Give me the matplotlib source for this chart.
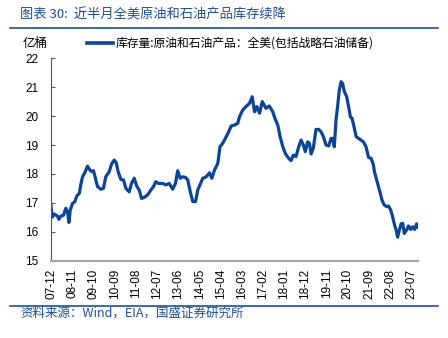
import matplotlib
matplotlib.use('Agg')
import matplotlib.pyplot as plt
import pandas as pd

# 全美原油和石油产品库存(含战略储备), 亿桶
dates = ['2007-11-22', '2007-12-10', '2008-01-13', '2008-03-04', '2008-03-25', '2008-04-25',
         '2008-06-07', '2008-07-13', '2008-08-10', '2008-09-01', '2008-09-22', '2008-10-28',
         '2008-12-04', '2009-01-04', '2009-02-13', '2009-03-07', '2009-04-04', '2009-05-10',
         '2009-06-22', '2009-07-22', '2009-08-25', '2009-09-25', '2009-10-22', '2009-11-28',
         '2010-01-19', '2010-03-01', '2010-04-07', '2010-06-01', '2010-07-07', '2010-08-19',
         '2010-09-19', '2010-10-19', '2010-12-01', '2011-01-13', '2011-02-19', '2011-04-13',
         '2011-05-19', '2011-07-01', '2011-08-10', '2011-09-19', '2011-10-25', '2011-12-07',
         '2012-01-28', '2012-03-19', '2012-05-01', '2012-06-07', '2012-07-19', '2012-09-22',
         '2012-11-13', '2013-01-04', '2013-03-01', '2013-04-13', '2013-05-19', '2013-06-28',
         '2013-08-07', '2013-09-19', '2013-10-25', '2013-12-04', '2014-01-13', '2014-02-25',
         '2014-04-01', '2014-05-07', '2014-06-19', '2014-08-01', '2014-09-07', '2014-10-04',
         '2014-11-10', '2014-12-22', '2015-02-13', '2015-03-19', '2015-05-01', '2015-06-13',
         '2015-08-04', '2015-09-13', '2015-11-04', '2015-12-25', '2016-01-22', '2016-03-13',
         '2016-05-04', '2016-06-28', '2016-08-10', '2016-09-16', '2016-10-22', '2016-12-04',
         '2017-01-16', '2017-03-16', '2017-05-07', '2017-07-01', '2017-08-13', '2017-09-19',
         '2017-10-25', '2017-12-07', '2018-01-19', '2018-03-10', '2018-04-16', '2018-05-22',
         '2018-07-04', '2018-08-16', '2018-09-22', '2018-10-28', '2018-11-28', '2019-01-04',
         '2019-02-01', '2019-02-28', '2019-04-04', '2019-05-16', '2019-06-28', '2019-08-04',
         '2019-09-10', '2019-10-22', '2019-12-04', '2020-01-10', '2020-02-04', '2020-03-01',
         '2020-03-28', '2020-04-22', '2020-05-19', '2020-06-16', '2020-07-10', '2020-08-07',
         '2020-09-13', '2020-10-13', '2020-11-10', '2020-12-07', '2021-01-01', '2021-02-10',
         '2021-03-19', '2021-04-28', '2021-06-04', '2021-07-16', '2021-08-25', '2021-10-04',
         '2021-11-10', '2021-11-25', '2022-01-01', '2022-02-13', '2022-03-25', '2022-05-01',
         '2022-06-07', '2022-07-07', '2022-08-10', '2022-09-10', '2022-10-10', '2022-11-04',
         '2022-11-28', '2022-12-25', '2023-01-22', '2023-02-16', '2023-03-13', '2023-04-19',
         '2023-05-19', '2023-06-22', '2023-07-22', '2023-08-22', '2023-09-25', '2023-10-16']

stocks = [16.90, 16.50, 16.61, 16.54, 16.43, 16.54,
          16.57, 16.81, 16.69, 16.32, 16.75, 16.98,
          17.04, 17.24, 17.33, 17.62, 17.90, 18.04,
          18.27, 18.16, 18.08, 18.11, 17.88, 17.56,
          17.47, 17.50, 17.90, 18.08, 18.34, 18.48,
          18.39, 18.08, 17.81, 17.79, 17.50, 17.38,
          17.67, 17.85, 17.58, 17.44, 17.15, 17.19,
          17.27, 17.44, 17.56, 17.73, 17.67, 17.67,
          17.62, 17.67, 17.47, 17.67, 18.11, 17.85,
          17.90, 17.88, 17.79, 17.38, 17.04, 17.04,
          17.44, 17.62, 17.85, 17.88, 17.96, 18.04,
          17.85, 18.13, 18.37, 18.94, 19.06, 19.23,
          19.46, 19.66, 19.69, 19.75, 19.98, 20.21,
          20.33, 20.44, 20.67, 20.15, 20.33, 20.10,
          20.50, 20.27, 20.35, 20.15, 19.87, 19.69,
          19.29, 18.94, 18.69, 18.54, 18.46, 18.65,
          18.60, 18.94, 19.17, 19.00, 18.77, 19.11,
          19.06, 18.69, 18.89, 19.54, 19.54, 19.46,
          19.29, 19.00, 18.97, 19.23, 19.23, 18.94,
          19.87, 20.33, 20.90, 21.19, 21.13, 20.85,
          20.67, 20.33, 19.98, 19.92, 19.69, 19.29,
          19.23, 19.17, 19.11, 18.94, 18.57, 18.54,
          18.31, 18.08, 17.79, 17.44, 17.10, 16.92,
          16.87, 16.89, 16.75, 16.52, 16.23, 16.06,
          15.81, 16.06, 16.27, 16.29, 15.94, 16.06,
          16.20, 16.08, 16.17, 16.08, 16.27, 16.15]

tick_labels = ['07-12', '08-11', '09-10', '10-09', '11-08', '12-07', '13-06', '14-05', '15-04',
               '16-03', '17-02', '18-01', '18-12', '19-11', '20-10', '21-09', '22-08', '23-07']

BLUE = '#0c4496'
TXT_BLUE = '#1f4e9c'
CJK = ['Noto Sans CJK SC', 'DejaVu Sans']
LAT = ['Liberation Sans', 'Noto Sans CJK SC']

x = pd.to_datetime(dates)

fig = plt.figure(figsize=(4.48, 3.38), dpi=100)
ax = fig.add_axes([0.1138, 0.229, 0.8192, 0.5985])

ax.plot(x, stocks, color=BLUE, linewidth=2.3, solid_joinstyle='round')

ax.set_ylim(15, 22)
ax.set_yticks(range(15, 23))
ax.set_xlim(x[0], x[-1])
ticks = [pd.Timestamp('20' + t[:2] + '-' + t[3:] + '-01') for t in tick_labels]
ax.set_xticks(ticks)
ax.set_xticklabels(tick_labels, rotation=90, family=LAT, fontsize=8.5)
for lab in ax.get_yticklabels():
    lab.set_family(LAT)
    lab.set_fontsize(8.5)

for s in ['top', 'right']:
    ax.spines[s].set_visible(False)
ax.spines['left'].set_color('#555555')
ax.spines['bottom'].set_color('#a6a6a6')
ax.spines['bottom'].set_linewidth(1.5)
ax.tick_params(axis='y', direction='in', length=3, color='#555555', pad=9)
ax.tick_params(axis='x', length=0, pad=6)

# title, legend, unit and source
fig.text(0.045, 0.957, '图表 30:  近半月全美原油和石油产品库存续降', family=CJK,
         fontsize=9.5, color=TXT_BLUE, ha='left', va='center')
fig.add_artist(plt.Line2D([0.022, 0.978], [0.917, 0.917], color=TXT_BLUE, linewidth=1.2))
fig.text(0.05, 0.872, '亿桶', family=CJK, fontsize=9, ha='left', va='center')
fig.add_artist(plt.Line2D([0.194, 0.252], [0.872, 0.872], color=BLUE, linewidth=2.6))
fig.text(0.259, 0.872, '库存量:原油和石油产品：全美(包括战略石油储备)', family=CJK,
         fontsize=8.5, ha='left', va='center')
fig.add_artist(plt.Line2D([0.022, 0.978], [0.095, 0.095], color=TXT_BLUE, linewidth=1.2))
fig.text(0.045, 0.073, '资料来源：Wind，EIA，国盛证券研究所', family=CJK,
         fontsize=9, color=TXT_BLUE, ha='left', va='center')

fig.savefig('out.png', dpi=100)
